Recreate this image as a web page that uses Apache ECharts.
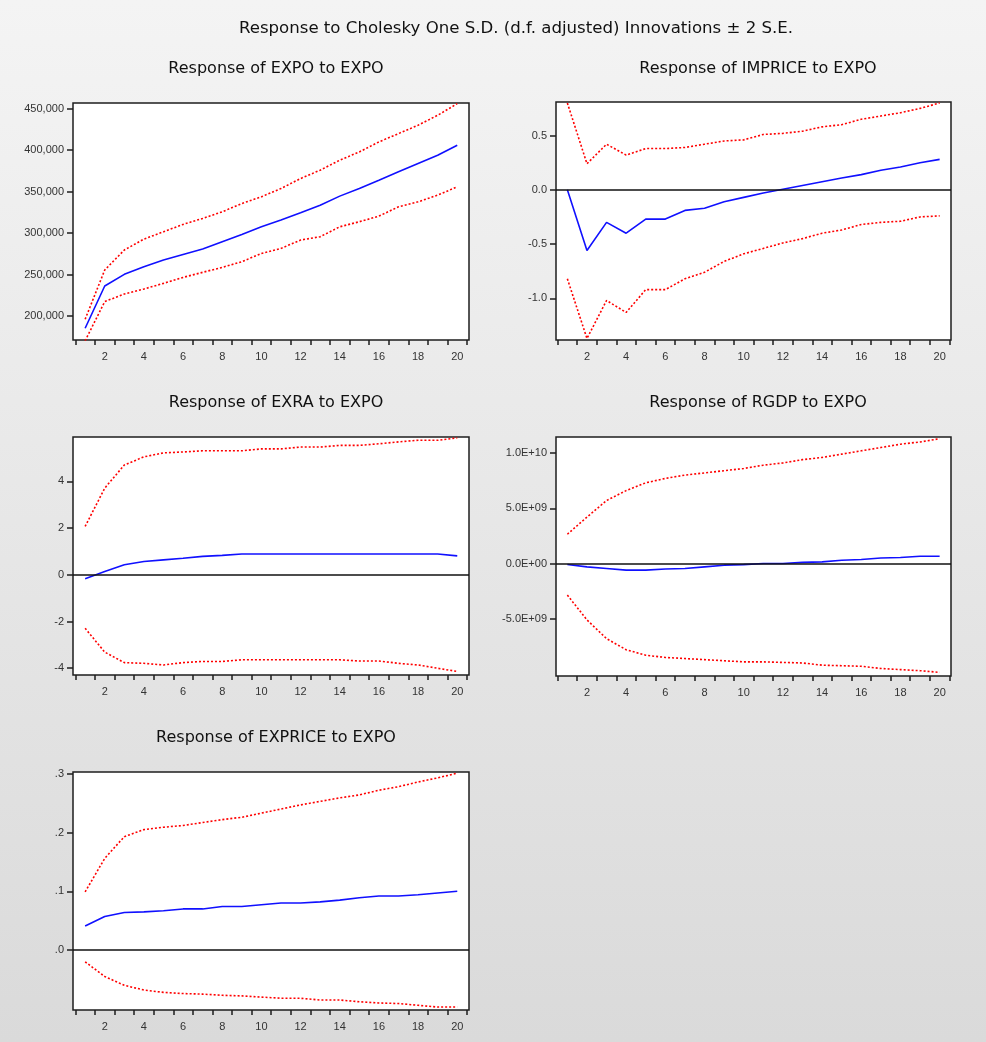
<!DOCTYPE html>
<html><head><meta charset="utf-8">
<script src="https://cdn.jsdelivr.net/npm/echarts@6/dist/echarts.min.js"></script>
<style>html,body{margin:0;padding:0;background:#eee;}#c{width:986px;height:1042px;}</style>
</head><body><div id="c"></div>
<script>
// ---------- data ----------
const periods = [1,2,3,4,5,6,7,8,9,10,11,12,13,14,15,16,17,18,19,20];
const xTickLabels = [2,4,6,8,10,12,14,16,18,20];

const mainTitle = 'Response to Cholesky One S.D. (d.f. adjusted) Innovations \u00B1 2 S.E.';
const panelTitles = ['Response of EXPO to EXPO','Response of IMPRICE to EXPO','Response of EXRA to EXPO','Response of RGDP to EXPO','Response of EXPRICE to EXPO'];

// EXPO
const expoMid = [185200,236100,250200,259400,267400,274200,280700,289500,298300,307500,315600,324400,333600,344500,353700,363700,373800,383800,393800,405900];
const expoUp  = [196000,255400,279500,292700,301500,310400,317600,325600,335600,343700,353700,365700,375800,387800,397800,409900,419900,430000,442000,456000];
const expoLo  = [170000,217300,226500,232500,239300,246500,252600,258600,265400,275400,281500,291500,295500,307500,313600,320400,331600,337600,345700,355700];
const expoTicks = [200000,250000,300000,350000,400000,450000];
const expoTickLabels = ['200,000','250,000','300,000','350,000','400,000','450,000'];

// IMPRICE
const impMid = [0.0,-0.56,-0.30,-0.40,-0.27,-0.27,-0.19,-0.17,-0.11,-0.07,-0.03,0.005,0.04,0.074,0.108,0.14,0.18,0.21,0.25,0.28];
const impUp  = [0.80,0.24,0.42,0.32,0.38,0.38,0.39,0.42,0.45,0.46,0.51,0.52,0.54,0.58,0.60,0.65,0.68,0.71,0.75,0.80];
const impLo  = [-0.82,-1.37,-1.02,-1.13,-0.92,-0.92,-0.82,-0.76,-0.66,-0.59,-0.54,-0.49,-0.45,-0.40,-0.37,-0.32,-0.30,-0.29,-0.25,-0.24];
const impTicks = [-1.0,-0.5,0.0,0.5];
const impTickLabels = ['-1.0','-0.5','0.0','0.5'];

// EXRA
const exraMid = [-0.17,0.14,0.43,0.57,0.64,0.71,0.79,0.83,0.89,0.89,0.89,0.89,0.89,0.89,0.89,0.89,0.89,0.89,0.89,0.81];
const exraUp  = [2.07,3.71,4.7,5.05,5.22,5.26,5.31,5.31,5.31,5.39,5.39,5.47,5.47,5.54,5.54,5.61,5.69,5.76,5.76,5.86];
const exraLo  = [-2.29,-3.31,-3.76,-3.79,-3.86,-3.76,-3.71,-3.71,-3.64,-3.64,-3.64,-3.64,-3.64,-3.64,-3.69,-3.69,-3.79,-3.86,-4.0,-4.14];
const exraTicks = [-4,-2,0,2,4];
const exraTickLabels = ['-4','-2','0','2','4'];

// RGDP
const rgdpMid = [-0.09e9,-0.3e9,-0.45e9,-0.6e9,-0.6e9,-0.5e9,-0.45e9,-0.3e9,-0.15e9,-0.1e9,0,0,0.1e9,0.15e9,0.3e9,0.36e9,0.5e9,0.55e9,0.66e9,0.66e9];
const rgdpUp  = [2.65e9,4.2e9,5.7e9,6.6e9,7.3e9,7.7e9,8.0e9,8.2e9,8.4e9,8.6e9,8.9e9,9.1e9,9.4e9,9.6e9,9.9e9,10.2e9,10.5e9,10.8e9,11.0e9,11.3e9];
const rgdpLo  = [-2.86e9,-5.1e9,-6.8e9,-7.8e9,-8.3e9,-8.5e9,-8.6e9,-8.7e9,-8.8e9,-8.9e9,-8.9e9,-8.95e9,-9.0e9,-9.2e9,-9.25e9,-9.3e9,-9.5e9,-9.6e9,-9.7e9,-9.85e9];
const rgdpTicks = [-5e9,0,5e9,1e10];
const rgdpTickLabels = ['-5.0E+09','0.0E+00','5.0E+09','1.0E+10'];

// EXPRICE
const exprMid = [0.041,0.057,0.064,0.065,0.067,0.070,0.070,0.074,0.074,0.077,0.080,0.080,0.082,0.085,0.089,0.092,0.092,0.094,0.097,0.100];
const exprUp  = [0.099,0.156,0.193,0.205,0.209,0.212,0.217,0.222,0.226,0.233,0.240,0.247,0.253,0.259,0.264,0.272,0.278,0.286,0.293,0.301];
const exprLo  = [-0.020,-0.045,-0.060,-0.068,-0.072,-0.074,-0.075,-0.077,-0.078,-0.080,-0.082,-0.082,-0.085,-0.085,-0.088,-0.090,-0.091,-0.094,-0.097,-0.097];
const exprTicks = [0,0.1,0.2,0.3];
const exprTickLabels = ['.0','.1','.2','.3'];

// ---------- layout ----------
const panels = [
  {mid: expoMid, up: expoUp, lo: expoLo, ticks: expoTicks, labels: expoTickLabels, zero: false,
   grid: {left: 73, top: 103, width: 396, height: 237}, ymin: 171000, ymax: 456800, xmin: 0.38, xmax: 20.6, tx: 271, ty: 56},
  {mid: impMid, up: impUp, lo: impLo, ticks: impTicks, labels: impTickLabels, zero: true,
   grid: {left: 556, top: 102, width: 395, height: 238}, ymin: -1.384, ymax: 0.809, xmin: 0.42, xmax: 20.58, tx: 753, ty: 56},
  {mid: exraMid, up: exraUp, lo: exraLo, ticks: exraTicks, labels: exraTickLabels, zero: true,
   grid: {left: 73, top: 437, width: 396, height: 238}, ymin: -4.29, ymax: 5.9, xmin: 0.38, xmax: 20.6, tx: 271, ty: 390},
  {mid: rgdpMid, up: rgdpUp, lo: rgdpLo, ticks: rgdpTicks, labels: rgdpTickLabels, zero: true,
   grid: {left: 556, top: 437, width: 395, height: 239}, ymin: -1.018e10, ymax: 1.145e10, xmin: 0.42, xmax: 20.58, tx: 753, ty: 390},
  {mid: exprMid, up: exprUp, lo: exprLo, ticks: exprTicks, labels: exprTickLabels, zero: true,
   grid: {left: 73, top: 772, width: 396, height: 238}, ymin: -0.102, ymax: 0.303, xmin: 0.38, xmax: 20.6, tx: 271, ty: 725}
];

const FONT = 'Liberation Sans, Arial, sans-serif';
const TFONT = 'DejaVu Sans, Verdana, sans-serif';
const xTickPos = periods.map(p => p - 0.5).concat([periods[periods.length - 1] + 0.5]);

const option = {
  animation: false,
  backgroundColor: {type: 'linear', x: 0, y: 0, x2: 0, y2: 1,
    colorStops: [{offset: 0, color: '#f4f4f4'}, {offset: 1, color: '#dadada'}]},
  title: [{text: mainTitle, left: 511, top: 15, textAlign: 'center',
           textStyle: {fontFamily: TFONT, fontSize: 16.6, fontWeight: 'normal', color: '#111'}}],
  grid: [], xAxis: [], yAxis: [], series: []
};

panels.forEach((p, i) => {
  option.title.push({text: panelTitles[i], left: p.tx, top: p.ty, textAlign: 'center',
    textStyle: {fontFamily: TFONT, fontSize: 16, fontWeight: 'normal', color: '#111'}});
  option.grid.push(Object.assign({show: true, backgroundColor: '#ffffff', borderColor: '#1e1e1e', borderWidth: 1.5,
    containLabel: false}, p.grid));
  option.xAxis.push({type: 'value', gridIndex: i, min: p.xmin, max: p.xmax, position: 'bottom',
    axisLine: {show: false, onZero: false}, splitLine: {show: false},
    axisTick: {show: true, inside: false, length: 5, lineStyle: {color: '#1e1e1e', width: 1.5}, customValues: xTickPos},
    axisLabel: {show: true, margin: 11, color: '#333', fontFamily: FONT, fontSize: 11, customValues: xTickLabels,
      formatter: v => String(v)}});
  option.yAxis.push({type: 'value', gridIndex: i, min: p.ymin, max: p.ymax, position: 'left',
    axisLine: {show: false, onZero: false}, splitLine: {show: false},
    axisTick: {show: true, inside: false, length: 6, lineStyle: {color: '#1e1e1e', width: 1.5}, customValues: p.ticks},
    axisLabel: {show: true, margin: 9, color: '#333', fontFamily: FONT, fontSize: 11, customValues: p.ticks,
      formatter: v => { const k = p.ticks.findIndex(t => Math.abs(t - v) < 1e-9 * Math.max(1, Math.abs(t))); return k >= 0 ? p.labels[k] : ''; }}});
  const mk = arr => periods.map((x, j) => [x, arr[j]]);
  const red = {color: '#ff0000', width: 1.6, type: [2, 2]};
  option.series.push({type: 'line', xAxisIndex: i, yAxisIndex: i, data: mk(p.up), symbol: 'none', lineStyle: red, z: 3});
  option.series.push({type: 'line', xAxisIndex: i, yAxisIndex: i, data: mk(p.lo), symbol: 'none', lineStyle: red, z: 3});
  const blue = {type: 'line', xAxisIndex: i, yAxisIndex: i, data: mk(p.mid), symbol: 'none',
    lineStyle: {color: '#1010ff', width: 1.6}, z: 4};
  if (p.zero) {
    blue.markLine = {silent: true, symbol: ['none', 'none'], label: {show: false},
      lineStyle: {color: '#111', width: 1.5, type: 'solid'}, data: [{yAxis: 0}], z: 5};
  }
  option.series.push(blue);
});

const chart = echarts.init(document.getElementById('c'), null, {renderer: 'canvas'});
chart.setOption(option);
</script>
</body></html>
